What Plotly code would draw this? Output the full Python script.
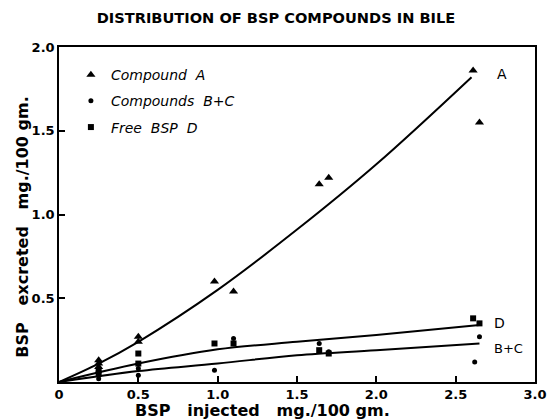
import plotly.graph_objects as go

# ---- data ----
a_x = [0.25, 0.25, 0.25, 0.5, 0.5, 0.98, 1.1, 1.64, 1.7, 2.61, 2.65]
a_y = [0.13, 0.11, 0.09, 0.27, 0.24, 0.60, 0.54, 1.18, 1.22, 1.86, 1.55]

bc_x = [0.25, 0.25, 0.5, 0.5, 0.98, 1.1, 1.64, 1.7, 2.62, 2.65]
bc_y = [0.04, 0.02, 0.08, 0.04, 0.07, 0.26, 0.23, 0.18, 0.12, 0.27]

d_x = [0.25, 0.25, 0.5, 0.5, 0.98, 1.1, 1.64, 1.7, 2.61, 2.65]
d_y = [0.07, 0.05, 0.17, 0.11, 0.23, 0.23, 0.19, 0.17, 0.38, 0.35]

# hand-drawn fitted curves
curve_a_x = [0, 0.25, 0.5, 1.0, 1.5, 2.0, 2.6]
curve_a_y = [0, 0.11, 0.24, 0.55, 0.91, 1.30, 1.82]
curve_d_x = [0, 0.5, 1.0, 1.5, 2.0, 2.65]
curve_d_y = [0, 0.11, 0.195, 0.24, 0.28, 0.34]
curve_bc_x = [0, 0.5, 1.0, 1.5, 2.0, 2.65]
curve_bc_y = [0, 0.065, 0.11, 0.16, 0.19, 0.23]

x_ticks = [0, 0.5, 1.0, 1.5, 2.0, 2.5, 3.0]
x_labels = ["0", "0.5", "1.0", "1.5", "2.0", "2.5", "3.0"]
y_ticks = [0.5, 1.0, 1.5, 2.0]
y_labels = ["0.5", "1.0", "1.5", "2.0"]

FONT = "DejaVu Sans"
fig = go.Figure()

for cx, cy in [(curve_a_x, curve_a_y), (curve_d_x, curve_d_y), (curve_bc_x, curve_bc_y)]:
    fig.add_trace(go.Scatter(x=cx, y=cy, mode="lines", line=dict(color="black", width=2, shape="spline"),
                             showlegend=False, hoverinfo="skip"))

fig.add_trace(go.Scatter(x=a_x, y=a_y, mode="markers", name="Compound  A", legendgroup="a",
                         marker=dict(symbol="triangle-up", size=8, color="black")))
fig.add_trace(go.Scatter(x=bc_x, y=bc_y, mode="markers", name="Compounds  B+C", legendgroup="bc",
                         marker=dict(symbol="circle", size=5, color="black")))
fig.add_trace(go.Scatter(x=d_x, y=d_y, mode="markers", name="Free  BSP  D", legendgroup="d",
                         marker=dict(symbol="square", size=6, color="black")))

axis_common = dict(showline=True, linecolor="black", linewidth=1.5, mirror=True,
                   ticks="inside", ticklen=6, tickwidth=1.5, tickcolor="black",
                   showgrid=False, zeroline=False,
                   tickfont=dict(family=FONT, size=13, color="black", weight="bold"))

fig.update_xaxes(range=[0, 3], tickvals=x_ticks, ticktext=x_labels, **axis_common)
fig.update_yaxes(range=[0, 2], tickvals=y_ticks, ticktext=y_labels, **axis_common)

fig.add_annotation(x=2.75, y=1.84, text="A", showarrow=False, xanchor="left",
                   font=dict(family=FONT, size=14, color="black"))
fig.add_annotation(x=2.73, y=0.35, text="D", showarrow=False, xanchor="left",
                   font=dict(family=FONT, size=14, color="black"))
fig.add_annotation(x=2.73, y=0.20, text="B+C", showarrow=False, xanchor="left",
                   font=dict(family=FONT, size=13, color="black"))

# axis titles (figure is drawn 8px in from the page corner)
fig.add_annotation(x=(267 - 59) / 486, y=-(410 - 382) / 335, xref="paper", yref="paper",
                   xanchor="center", yanchor="middle",
                   text="BSP   injected   mg./100 gm.", showarrow=False,
                   font=dict(family=FONT, size=16, color="black", weight="bold"))
fig.add_annotation(x=(22 - 59) / 486, y=0.463, xref="paper", yref="paper",
                   xanchor="center", yanchor="middle",
                   text="BSP   excreted   mg./100 gm.", textangle=-90, showarrow=False,
                   font=dict(family=FONT, size=16, color="black", weight="bold"))

fig.update_layout(
    width=551, height=411,
    margin=dict(l=51, r=14, t=39, b=37),
    paper_bgcolor="white", plot_bgcolor="white",
    title=dict(text="DISTRIBUTION OF BSP COMPOUNDS IN BILE", x=(276 - 8) / 551, xanchor="center",
               y=1 - 10 / 411, yanchor="middle",
               font=dict(family=FONT, size=14.6, color="black", weight="bold")),
    legend=dict(x=0.025, y=0.964, xanchor="left", yanchor="top", bgcolor="rgba(0,0,0,0)",
                font=dict(family=FONT, size=14, color="black", style="italic"),
                itemwidth=30, tracegroupgap=5),
    showlegend=True,
)

fig.write_html("out.html")
